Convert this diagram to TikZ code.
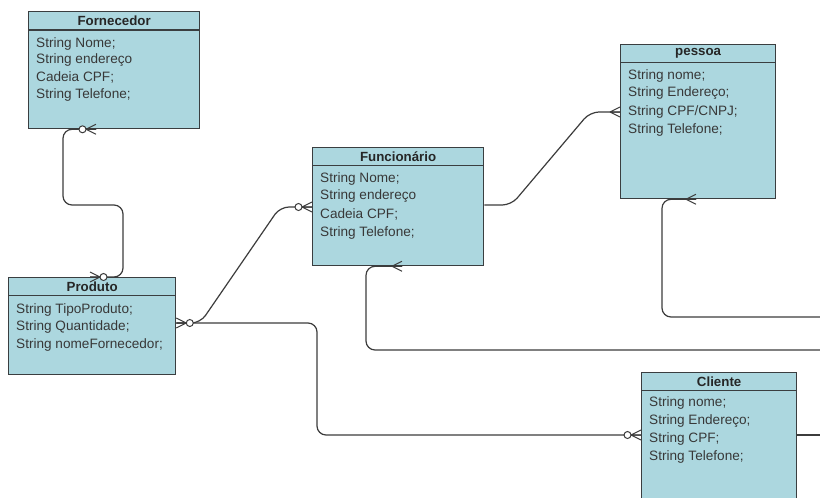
\documentclass[tikz,border=0pt]{standalone}
\usepackage{fontspec}
\setmainfont{Liberation Sans}
\usetikzlibrary{calc}
\definecolor{entfill}{RGB}{172,215,223}
\definecolor{entline}{RGB}{58,62,64}
\definecolor{conncol}{RGB}{60,60,60}
\tikzset{
  entity/.style={draw=entline, fill=entfill, line width=1.3pt, rectangle, inner sep=0pt, anchor=north west},
  enttitle/.style={font=\fontsize{13.3}{15}\selectfont\bfseries, inner sep=0pt, text=black!85},
  attr/.style={font=\fontsize{13.6}{15}\selectfont, inner sep=0pt, anchor=west, text=black!78},
  conn/.style={draw=conncol, line width=1.2pt, rounded corners=9pt},
  crowline/.style={draw=conncol, line width=1pt},
  crow/.pic={\draw[crowline] (-10,0) -- (0,5) (-10,0) -- (0,-5) (-10,0) -- (0,0);},
  crowo/.pic={\draw[crowline] (-10,0) -- (0,5) (-10,0) -- (0,-5) (-10,0) -- (0,0);
              \draw[crowline, fill=white] (-13.5,0) circle[radius=3.5pt];},
}
\begin{document}
\begin{tikzpicture}[x=1pt, y=-1pt]
\useasboundingbox (0,0) rectangle (820,498);
\clip (0,0) rectangle (820,498);
\fill[white] (0,0) rectangle (820,498);

% ---------- entities ----------
\node[entity, minimum width=171pt, minimum height=117pt] (forn) at (28,11) {};
\draw[entline, line width=1.1pt] ($(forn.north west)+(0,19)$) -- ($(forn.north east)+(0,19)$);
\node[enttitle] (fornT) at ($(forn.north)+(0,9.5)$) {Fornecedor};
\node[attr] (forn1) at ($(forn.north west)+(8,32.5)$) {String Nome;};
\node[attr] (forn2) at ($(forn.north west)+(8,49.5)$) {String endereço};
\node[attr] (forn3) at ($(forn.north west)+(8,66.5)$) {Cadeia CPF;};
\node[attr] (forn4) at ($(forn.north west)+(8,83.5)$) {String Telefone;};

\node[entity, minimum width=167pt, minimum height=97pt] (prod) at (8,277) {};
\draw[entline, line width=1.1pt] ($(prod.north west)+(0,18.5)$) -- ($(prod.north east)+(0,18.5)$);
\node[enttitle] (prodT) at ($(prod.north)+(0,9.5)$) {Produto};
\node[attr] (prod1) at ($(prod.north west)+(8,33)$) {String TipoProduto;};
\node[attr] (prod2) at ($(prod.north west)+(8,50)$) {String Quantidade;};
\node[attr] (prod3) at ($(prod.north west)+(8,67.5)$) {String nomeFornecedor;};

\node[entity, minimum width=171pt, minimum height=118pt] (func) at (312,147) {};
\draw[entline, line width=1.1pt] ($(func.north west)+(0,18.5)$) -- ($(func.north east)+(0,18.5)$);
\node[enttitle] (funcT) at ($(func.north)+(0,9.5)$) {Funcionário};
\node[attr] (func1) at ($(func.north west)+(8,31.5)$) {String Nome;};
\node[attr] (func2) at ($(func.north west)+(8,49.5)$) {String endereço};
\node[attr] (func3) at ($(func.north west)+(8,67.5)$) {Cadeia CPF;};
\node[attr] (func4) at ($(func.north west)+(8,85.5)$) {String Telefone;};

\node[entity, minimum width=155pt, minimum height=154pt] (pess) at (620,44) {};
\draw[entline, line width=1.1pt] ($(pess.north west)+(0,18.5)$) -- ($(pess.north east)+(0,18.5)$);
\node[enttitle] (pessT) at ($(pess.north)+(0,9.5)$) {pessoa};
\node[attr] (pess1) at ($(pess.north west)+(8,31.5)$) {String nome;};
\node[attr] (pess2) at ($(pess.north west)+(8,49.5)$) {String Endereço;};
\node[attr] (pess3) at ($(pess.north west)+(8,67.5)$) {String CPF/CNPJ;};
\node[attr] (pess4) at ($(pess.north west)+(8,85.5)$) {String Telefone;};

\node[entity, minimum width=155pt, minimum height=150pt] (cli) at (641,372) {};
\draw[entline, line width=1.1pt] ($(cli.north west)+(0,18.5)$) -- ($(cli.north east)+(0,18.5)$);
\node[enttitle] (cliT) at ($(cli.north)+(0,9.5)$) {Cliente};
\node[attr] (cli1) at ($(cli.north west)+(8,31)$) {String nome;};
\node[attr] (cli2) at ($(cli.north west)+(8,49)$) {String Endereço;};
\node[attr] (cli3) at ($(cli.north west)+(8,67)$) {String CPF;};
\node[attr] (cli4) at ($(cli.north west)+(8,85)$) {String Telefone;};

% ---------- connector end points ----------
\coordinate (fornB) at ($(forn.south west)+(68,0)$);
\coordinate (prodT1) at ($(prod.north west)+(82,0)$);
\coordinate (prodR) at ($(prod.north east)+(0,46)$);
\coordinate (funcL) at ($(func.north west)+(0,60)$);
\coordinate (funcR) at ($(func.north east)+(0,58)$);
\coordinate (funcB) at ($(func.south west)+(90,0)$);
\coordinate (pessL) at ($(pess.north west)+(0,68)$);
\coordinate (pessB) at ($(pess.south west)+(76,0)$);
\coordinate (cliL) at ($(cli.north west)+(0,63)$);
\coordinate (cliR) at ($(cli.north east)+(0,63)$);
\coordinate (offA) at (822,317);
\coordinate (offB) at (822,350);
\coordinate (offC) at (822,435);

% ---------- connectors ----------
\draw[conn] (prodT1) -- ++(33,0) |- (63,205) |- (fornB);
\draw[conn] (prodR) -- ++(24,0) -- (280,207) -- (funcL);
\draw[conn] (prodR) -| (317,380) |- (cliL);
\draw[conn] (funcR) -- ++(27,0) -- (590,112) -- (pessL);
\draw[conn] (offB) -| (366,300) |- (funcB);
\draw[conn] (offA) -| (662,260) |- (pessB);
\draw[conn] (cliR) -- (offC);

% ---------- crow's feet ----------
\pic at (fornB) {crowo};
\pic[rotate=180] at (prodT1) {crowo};
\pic[rotate=180] at (prodR) {crowo};
\pic at (funcL) {crowo};
\pic at (pessL) {crow};
\pic at (cliL) {crowo};
\pic at (funcB) {crow};
\pic at (pessB) {crow};
\end{tikzpicture}
\end{document}
